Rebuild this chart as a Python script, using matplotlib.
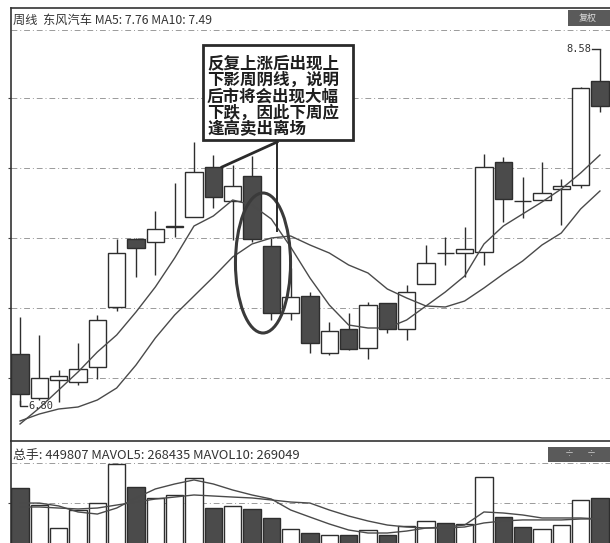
import matplotlib
matplotlib.use("Agg")
import matplotlib.pyplot as plt
from matplotlib.patches import Rectangle, Ellipse

plt.rcParams['font.family'] = ['Noto Sans CJK SC', 'DejaVu Sans']

# Weekly bars
opens = [7.055, 6.835, 6.925, 6.915, 6.99, 7.29, 7.63, 7.615, 7.69, 7.74, 7.99, 7.82,
         7.945, 7.595, 7.26, 7.345, 7.06, 7.18, 7.085, 7.31, 7.18, 7.405, 7.56, 7.56,
         7.565, 8.015, 7.82, 7.825, 7.88, 7.90, 8.42]
closes = [6.855, 6.935, 6.945, 6.98, 7.225, 7.56, 7.585, 7.68, 7.692, 7.965, 7.84, 7.895,
          7.63, 7.26, 7.34, 7.11, 7.17, 7.08, 7.30, 7.18, 7.365, 7.51, 7.558, 7.58,
          7.99, 7.83, 7.818, 7.86, 7.895, 8.385, 8.295]
highs = [7.24, 7.15, 6.975, 7.11, 7.25, 7.63, 7.635, 7.77, 7.91, 8.115, 8.05, 8.0,
         8.045, 7.635, 7.485, 7.365, 7.215, 7.26, 7.315, 7.31, 7.40, 7.60, 7.64, 7.69,
         8.055, 8.04, 7.94, 8.015, 7.93, 8.39, 8.58]
lows = [6.80, 6.825, 6.815, 6.90, 6.93, 7.27, 7.44, 7.45, 7.64, 7.74, 7.785, 7.625,
        7.615, 7.225, 7.225, 7.06, 7.05, 7.075, 7.03, 7.16, 7.125, 7.405, 7.50, 7.44,
        7.50, 7.715, 7.735, 7.825, 7.70, 7.885, 8.265]

ma5 = [6.705, 6.785, 6.875, 6.965, 7.065, 7.15, 7.265, 7.39, 7.535, 7.695, 7.745, 7.825,
       7.80, 7.73, 7.59, 7.435, 7.30, 7.20, 7.185, 7.185, 7.225, 7.295, 7.365, 7.445,
       7.605, 7.695, 7.755, 7.815, 7.88, 7.96, 8.05]
ma10 = [6.72, 6.755, 6.78, 6.79, 6.825, 6.885, 7.00, 7.135, 7.25, 7.345, 7.44, 7.54,
        7.605, 7.635, 7.645, 7.60, 7.56, 7.50, 7.46, 7.38, 7.335, 7.295, 7.29, 7.32,
        7.385, 7.455, 7.52, 7.60, 7.66, 7.78, 7.87]

volumes = [536000, 389000, 190000, 346000, 407000, 748000, 545000, 450000, 476000, 623000,
           363000, 381000, 355000, 277000, 182000, 147000, 130000, 130000, 173000, 130000,
           208000, 251000, 234000, 225000, 631000, 285000, 199000, 182000, 216000, 433000,
           449807]
mavol5 = [406000, 406000, 381000, 329000, 311000, 363000, 450000, 528000, 571000, 606000,
          571000, 519000, 476000, 441000, 346000, 285000, 225000, 173000, 147000, 147000,
          164000, 190000, 199000, 216000, 329000, 320000, 303000, 277000, 277000, 277000,
          268435]
mavol10 = [372000, 372000, 363000, 355000, 363000, 389000, 415000, 441000, 458000, 476000,
           467000, 458000, 450000, 433000, 415000, 406000, 346000, 294000, 251000, 216000,
           199000, 190000, 190000, 199000, 234000, 251000, 260000, 260000, 260000, 268000,
           269049]

price_grid = [6.935, 7.285, 7.635, 7.985, 8.335]
vol_grid = [410000]

header = "周线  东风汽车 MA5: 7.76 MA10: 7.49"
vol_header = "总手: 449807 MAVOL5: 268435 MAVOL10: 269049"
note = ["反复上涨后出现上", "下影周阴线，说明", "后市将会出现大幅", "下跌，因此下周应", "逢高卖出离场"]

W, H = 610, 543
DARK = "#4b4b4b"
EDGE = "#2e2e2e"
LINE = "#4a4a4a"
GRID = "#9a9a9a"

fig = plt.figure(figsize=(W / 100, H / 100), dpi=100, facecolor="white")


def fx(px):
    return px / W


def fy(py):
    return 1 - py / H


n = len(opens)
xs = list(range(n))
xlim = (-0.466, 30.52)

# ---- price panel ----
ax = fig.add_axes([fx(11), fy(441), fx(599), (441 - 8) / H])
ax.set_xlim(*xlim)
ax.set_ylim(6.62, 8.785)
for s in ("right", "bottom"):
    ax.spines[s].set_visible(False)
for s in ("left", "top"):
    ax.spines[s].set_color("#333333")
    ax.spines[s].set_linewidth(1.2)
ax.set_xticks([])
ax.set_yticks(price_grid)
ax.set_yticklabels([])
ax.tick_params(axis="y", length=2, width=0.8, color="#444444", direction="out")
for g in price_grid:
    ax.axhline(g, color=GRID, lw=0.7, ls=(0, (6, 3, 1, 3)), zorder=0)
ax.axhline(8.675, color=GRID, lw=0.7, ls=(0, (6, 3, 1, 3)), zorder=0)

bw = 0.9
for i in xs:
    o, c, h, l = opens[i], closes[i], highs[i], lows[i]
    ax.vlines(i, l, h, color=EDGE, lw=1.0, zorder=2)
    up = c >= o
    bottom = min(o, c)
    height = max(abs(c - o), 0.004)
    ax.add_patch(Rectangle((i - bw / 2, bottom), bw, height,
                           facecolor="white" if up else DARK,
                           edgecolor=EDGE, lw=1.0, zorder=3))

ax.plot(xs, ma5, color=LINE, lw=1.0, zorder=4)
ax.plot(xs, ma10, color=LINE, lw=1.0, zorder=4)

# highlighted weeks
ax.add_patch(Ellipse((12.57, 7.51), 2.85, 0.70, fill=False,
                     edgecolor="#3a3a3a", lw=2.2, zorder=5))

# callout box
ax.add_patch(Rectangle((9.47, 8.125), 7.76, 0.475, facecolor="white",
                       edgecolor="#2a2a2a", lw=2.0, zorder=6))
ax.plot([13.30, 10.45], [8.115, 7.99], color="#2a2a2a", lw=2.0, zorder=6)
ax.plot([13.30, 13.30], [8.115, 7.67], color="#2a2a2a", lw=1.4, zorder=6)
for k, line in enumerate(note):
    fig.text(fx(207), fy(63.5 + k * 16.4), line, fontsize=11.9, fontweight="bold",
             color="#1e1e1e", ha="left", va="center", zorder=7)

# high / low markers
hi_i = highs.index(max(highs))
lo_i = lows.index(min(lows))
ax.plot([hi_i - 0.42, hi_i], [highs[hi_i], highs[hi_i]], color=EDGE, lw=1.0, zorder=4)
ax.text(hi_i - 0.45, highs[hi_i], f"{highs[hi_i]:.2f}", fontsize=7.5,
        family="DejaVu Sans Mono", color="#333333", ha="right", va="center")
ax.plot([lo_i, lo_i, lo_i + 0.35], [lows[lo_i] + 0.02, lows[lo_i] - 0.005, lows[lo_i] - 0.005],
        color=EDGE, lw=1.0, zorder=4)
ax.text(lo_i + 0.42, lows[lo_i] - 0.005, f"{lows[lo_i]:.2f}", fontsize=7.5,
        family="DejaVu Sans Mono", color="#333333", ha="left", va="center")

fig.text(fx(13), fy(20), header, fontsize=8.8, color="#333333", ha="left", va="center")
fig.patches.append(Rectangle((fx(568), fy(26)), fx(42), 16 / H, transform=fig.transFigure,
                             facecolor="#5a5a5a", edgecolor="none", figure=fig))
fig.text(fx(588), fy(18), "复权", fontsize=6.5, color="#dddddd", ha="center", va="center")

# ---- volume panel ----
vx = fig.add_axes([fx(11), 0, fx(599), (543 - 441) / H])
vx.set_xlim(*xlim)
vx.set_ylim(60550, 942850)
for s in ("right", "bottom"):
    vx.spines[s].set_visible(False)
for s in ("left", "top"):
    vx.spines[s].set_color("#333333")
    vx.spines[s].set_linewidth(1.2)
vx.set_xticks([])
vx.set_yticks(vol_grid)
vx.set_yticklabels([])
vx.tick_params(axis="y", length=2, width=0.8, color="#444444", direction="out")
for g in vol_grid:
    vx.axhline(g, color=GRID, lw=0.7, ls=(0, (6, 3, 1, 3)), zorder=0)
vx.axhline(752550, color=GRID, lw=0.7, ls=(0, (6, 3, 1, 3)), zorder=0)

for i in xs:
    up = closes[i] >= opens[i]
    vx.add_patch(Rectangle((i - bw / 2, 0), bw, volumes[i],
                           facecolor="white" if up else DARK,
                           edgecolor=EDGE, lw=1.0, zorder=3))
vx.plot(xs, mavol5, color=LINE, lw=1.0, zorder=4)
vx.plot(xs, mavol10, color=LINE, lw=1.0, zorder=4)

fig.text(fx(13), fy(455), vol_header, fontsize=9.3, color="#333333", ha="left", va="center")
fig.patches.append(Rectangle((fx(548), fy(462)), fx(62), 15 / H, transform=fig.transFigure,
                             facecolor="#5a5a5a", edgecolor="none", figure=fig))
fig.text(fx(569), fy(454.5), "÷", fontsize=6.5, color="#cfcfcf", ha="center", va="center")
fig.text(fx(591), fy(454.5), "÷", fontsize=6.5, color="#cfcfcf", ha="center", va="center")

fig.savefig("out.png", dpi=100, facecolor="white")
